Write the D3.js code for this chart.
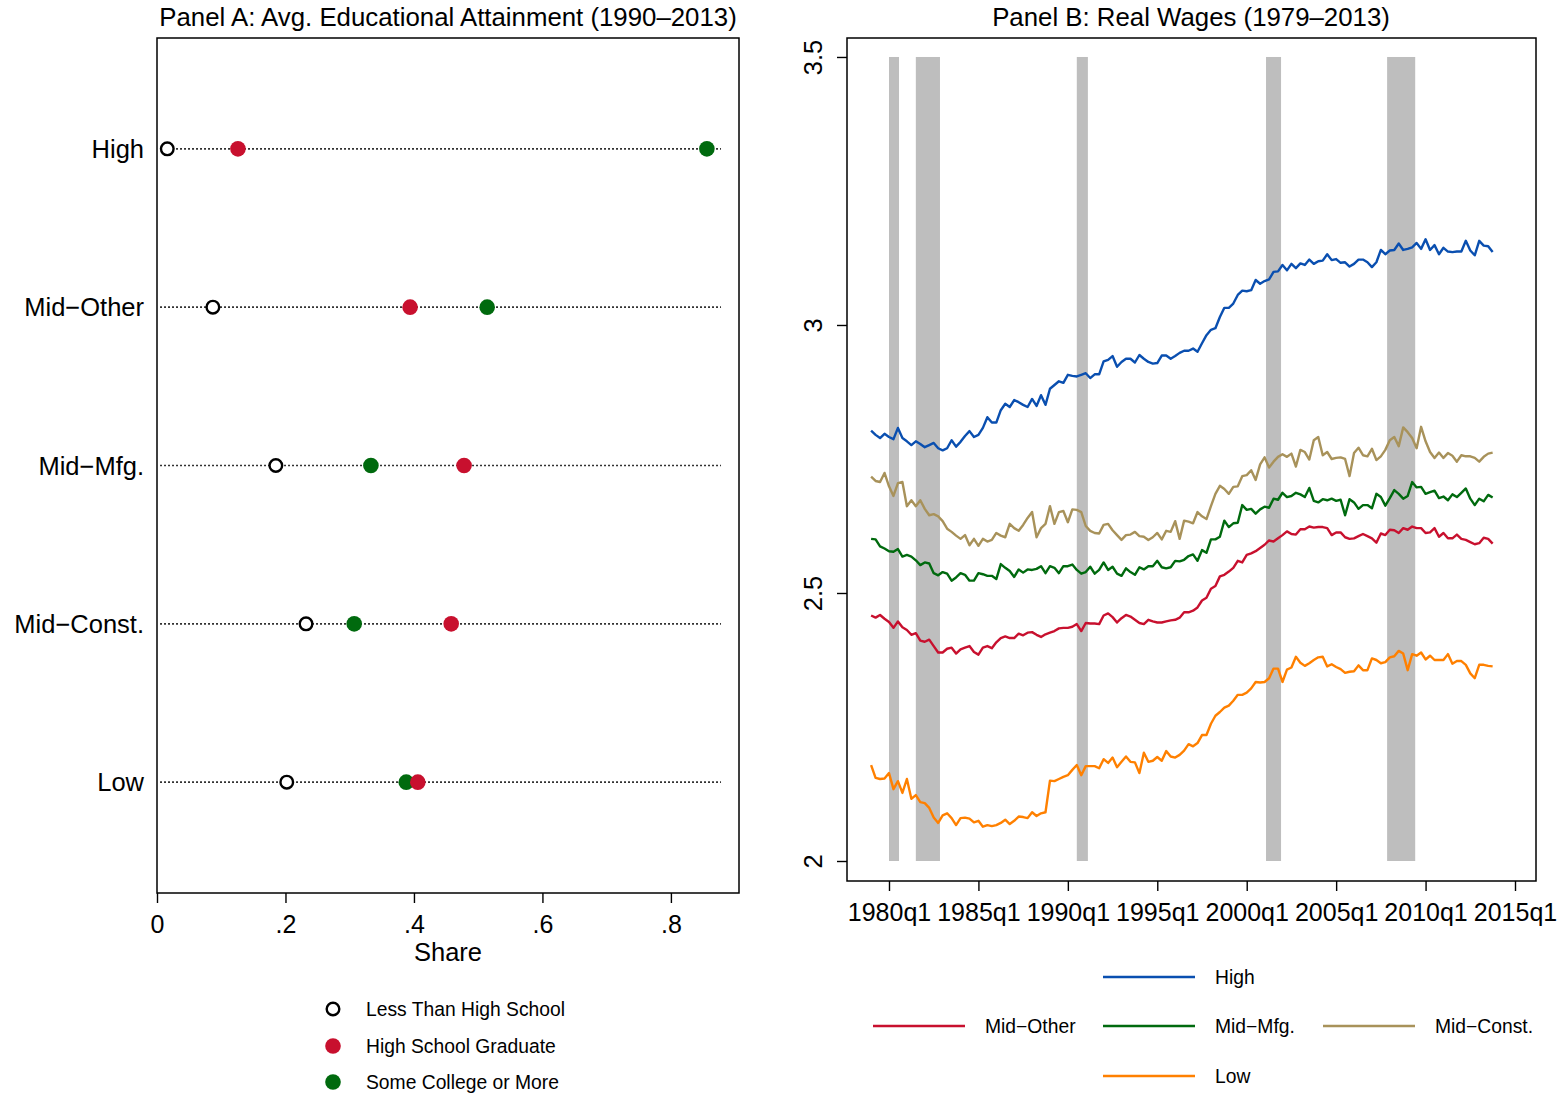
<!DOCTYPE html>
<html><head><meta charset="utf-8">
<script src="https://cdn.jsdelivr.net/npm/d3@7"></script>
<style>
body{margin:0;background:#fff}
svg{display:block}
text{font-family:"Liberation Sans",Arial,Helvetica,sans-serif;fill:#000}
</style>
</head><body>
<svg id="c" width="1566" height="1097"></svg>
<script>
// ---------- Panel A data ----------
const categories = ["High","Mid\u2212Other","Mid\u2212Mfg.","Mid\u2212Const.","Low"];
const lessThanHS  = [0.016,0.087,0.185,0.232,0.202];
const hsGrad      = [0.126,0.394,0.478,0.458,0.406];
const someCollege = [0.856,0.514,0.333,0.307,0.388];
const shareTicks = [0,0.2,0.4,0.6,0.8];
const shareTickLabels = ["0",".2",".4",".6",".8"];
const eduLegend = ["Less Than High School","High School Graduate","Some College or More"];

// ---------- Panel B data (quarterly, 1979q1 - 2013q4) ----------
const startYear = 1979;
const high = [
2.803,2.795,2.789,2.797,2.791,2.787,2.808,2.789,2.783,2.776,
2.783,2.778,2.772,2.776,2.780,2.770,2.766,2.770,2.785,2.773,
2.782,2.793,2.802,2.791,2.795,2.808,2.828,2.818,2.818,2.841,
2.853,2.847,2.860,2.856,2.851,2.847,2.862,2.849,2.869,2.851,
2.881,2.888,2.895,2.892,2.907,2.905,2.904,2.907,2.910,2.901,
2.908,2.908,2.932,2.935,2.942,2.922,2.931,2.937,2.937,2.930,
2.944,2.937,2.931,2.928,2.929,2.943,2.943,2.937,2.942,2.948,
2.952,2.952,2.956,2.950,2.966,2.981,2.991,2.994,3.015,3.032,
3.032,3.040,3.056,3.064,3.063,3.065,3.084,3.077,3.082,3.085,
3.099,3.100,3.112,3.102,3.114,3.106,3.115,3.112,3.122,3.114,
3.119,3.120,3.132,3.121,3.123,3.116,3.117,3.109,3.114,3.122,
3.122,3.117,3.108,3.117,3.140,3.132,3.139,3.140,3.152,3.140,
3.142,3.145,3.153,3.142,3.160,3.140,3.149,3.132,3.144,3.137,
3.136,3.137,3.137,3.157,3.139,3.130,3.157,3.148,3.147,3.136];
const midOther = [
2.458,2.454,2.459,2.452,2.446,2.435,2.447,2.436,2.431,2.422,
2.425,2.411,2.409,2.413,2.401,2.389,2.389,2.396,2.398,2.387,
2.395,2.398,2.401,2.390,2.385,2.398,2.401,2.397,2.408,2.416,
2.419,2.416,2.416,2.424,2.421,2.426,2.427,2.422,2.418,2.423,
2.426,2.429,2.434,2.435,2.435,2.437,2.442,2.429,2.444,2.443,
2.443,2.442,2.458,2.462,2.455,2.445,2.453,2.459,2.456,2.450,
2.444,2.442,2.450,2.447,2.445,2.445,2.447,2.449,2.450,2.454,
2.464,2.464,2.467,2.473,2.486,2.491,2.508,2.513,2.531,2.534,
2.540,2.547,2.560,2.557,2.571,2.574,2.578,2.584,2.590,2.598,
2.596,2.602,2.608,2.615,2.610,2.609,2.619,2.619,2.624,2.622,
2.623,2.623,2.621,2.608,2.613,2.613,2.604,2.601,2.602,2.606,
2.610,2.606,2.602,2.594,2.611,2.608,2.618,2.617,2.612,2.621,
2.618,2.624,2.621,2.621,2.612,2.613,2.621,2.605,2.612,2.602,
2.602,2.609,2.601,2.599,2.595,2.591,2.593,2.603,2.601,2.592];
const midMfg = [
2.601,2.600,2.587,2.583,2.578,2.577,2.582,2.568,2.571,2.568,
2.561,2.552,2.557,2.555,2.537,2.533,2.539,2.536,2.523,2.529,
2.537,2.534,2.523,2.523,2.537,2.535,2.532,2.532,2.526,2.554,
2.547,2.541,2.530,2.544,2.538,2.544,2.543,2.545,2.550,2.537,
2.550,2.547,2.537,2.550,2.550,2.553,2.543,2.536,2.539,2.549,
2.536,2.543,2.557,2.543,2.549,2.536,2.532,2.546,2.539,2.534,
2.548,2.544,2.550,2.550,2.560,2.548,2.546,2.548,2.560,2.559,
2.562,2.569,2.572,2.560,2.580,2.575,2.600,2.600,2.605,2.635,
2.623,2.630,2.631,2.664,2.655,2.657,2.648,2.656,2.661,2.659,
2.676,2.674,2.687,2.679,2.681,2.687,2.684,2.679,2.696,2.672,
2.669,2.675,2.673,2.676,2.672,2.674,2.645,2.675,2.669,2.657,
2.664,2.664,2.658,2.685,2.679,2.663,2.677,2.692,2.685,2.676,
2.681,2.707,2.697,2.698,2.685,2.688,2.691,2.677,2.680,2.673,
2.684,2.679,2.687,2.695,2.676,2.664,2.676,2.671,2.683,2.678];
const midConst = [
2.717,2.709,2.707,2.724,2.699,2.681,2.705,2.707,2.662,2.673,
2.662,2.673,2.657,2.645,2.647,2.643,2.634,2.620,2.614,2.607,
2.601,2.608,2.589,2.601,2.588,2.601,2.596,2.599,2.612,2.607,
2.604,2.629,2.621,2.616,2.627,2.640,2.651,2.604,2.621,2.629,
2.662,2.629,2.651,2.653,2.632,2.656,2.655,2.651,2.625,2.616,
2.612,2.611,2.627,2.629,2.617,2.608,2.599,2.608,2.609,2.614,
2.606,2.605,2.599,2.604,2.612,2.600,2.616,2.614,2.634,2.601,
2.635,2.633,2.630,2.651,2.643,2.638,2.662,2.685,2.700,2.694,
2.685,2.698,2.699,2.718,2.720,2.729,2.711,2.740,2.753,2.734,
2.745,2.754,2.759,2.754,2.760,2.736,2.767,2.763,2.749,2.785,
2.791,2.757,2.763,2.750,2.752,2.753,2.750,2.718,2.761,2.771,
2.757,2.755,2.769,2.748,2.755,2.767,2.785,2.791,2.774,2.809,
2.800,2.789,2.770,2.810,2.783,2.763,2.752,2.762,2.752,2.761,
2.756,2.745,2.757,2.755,2.755,2.752,2.745,2.754,2.760,2.762];
const low = [
2.179,2.155,2.153,2.154,2.164,2.134,2.149,2.127,2.153,2.116,
2.123,2.110,2.108,2.099,2.081,2.071,2.085,2.089,2.080,2.067,
2.080,2.081,2.079,2.072,2.075,2.064,2.067,2.065,2.067,2.071,
2.077,2.069,2.075,2.083,2.082,2.080,2.091,2.084,2.089,2.091,
2.150,2.149,2.153,2.157,2.160,2.170,2.179,2.160,2.177,2.177,
2.177,2.173,2.190,2.183,2.193,2.175,2.185,2.195,2.185,2.184,
2.164,2.202,2.185,2.187,2.194,2.187,2.205,2.195,2.193,2.198,
2.206,2.218,2.214,2.220,2.235,2.235,2.256,2.271,2.278,2.286,
2.290,2.299,2.310,2.310,2.314,2.322,2.334,2.333,2.334,2.341,
2.359,2.359,2.334,2.357,2.361,2.381,2.370,2.364,2.369,2.375,
2.380,2.381,2.363,2.367,2.362,2.358,2.351,2.353,2.354,2.365,
2.356,2.356,2.378,2.375,2.369,2.371,2.380,2.382,2.392,2.387,
2.356,2.386,2.383,2.389,2.376,2.383,2.375,2.375,2.375,2.386,
2.368,2.373,2.373,2.366,2.350,2.341,2.366,2.366,2.364,2.363];
const recessionStart = [1980.0, 1981.5, 1990.5, 2001.08, 2007.85];
const recessionEnd   = [1980.56, 1982.85, 1991.12, 2001.92, 2009.42];
const yearTicks = [1980,1985,1990,1995,2000,2005,2010,2015];
const yearTickLabels = ["1980q1","1985q1","1990q1","1995q1","2000q1","2005q1","2010q1","2015q1"];
const wageTicks = [2,2.5,3,3.5];
const wageTickLabels = ["2","2.5","3","3.5"];
const seriesNames = ["High","Mid\u2212Other","Mid\u2212Mfg.","Mid\u2212Const.","Low"];

const RED = "#c8102e", GREEN = "#006a0e";
const seriesColors = ["#0a4fb0", RED, GREEN, "#a8925a", "#ff8000"];
const seriesData = [high, midOther, midMfg, midConst, low];

const svg = d3.select("#c");
const FONT_TICK = 25;

// ================= Panel A =================
const A = {left:157, right:739, top:38, bottom:893};
const xA = d3.scaleLinear().domain([0, 0.906]).range([A.left, A.right]);
const yA = d3.scalePoint().domain(categories).range([A.top, A.bottom]).padding(0.7);

svg.append("text").attr("x", (A.left+A.right)/2).attr("y", 26)
  .attr("text-anchor","middle").attr("font-size", 25.8)
  .text("Panel A: Avg. Educational Attainment (1990\u20132013)");

const gA = svg.append("g");
gA.selectAll("line.dot").data(categories).join("line")
  .attr("x1", xA(0.005)).attr("x2", xA(0.878))
  .attr("y1", d => yA(d)).attr("y2", d => yA(d))
  .attr("stroke","#000").attr("stroke-width",1.6).attr("stroke-dasharray","1.6,2.4");

gA.selectAll("circle.lhs").data(categories).join("circle")
  .attr("cx", (d,i) => xA(lessThanHS[i])).attr("cy", d => yA(d)).attr("r", 6.3)
  .attr("fill","#fff").attr("stroke","#000").attr("stroke-width",2.4);
gA.selectAll("circle.sc").data(categories).join("circle")
  .attr("cx", (d,i) => xA(someCollege[i])).attr("cy", d => yA(d)).attr("r", 7.8)
  .attr("fill", GREEN);
gA.selectAll("circle.hs").data(categories).join("circle")
  .attr("cx", (d,i) => xA(hsGrad[i])).attr("cy", d => yA(d)).attr("r", 7.8)
  .attr("fill", RED);

svg.append("rect").attr("x",A.left).attr("y",A.top)
  .attr("width",A.right-A.left).attr("height",A.bottom-A.top)
  .attr("fill","none").attr("stroke","#000").attr("stroke-width",1.5);

gA.selectAll("text.cat").data(categories).join("text")
  .attr("x", A.left-13).attr("y", d => yA(d)).attr("dy","0.36em")
  .attr("text-anchor","end").attr("font-size",25.5).text(d => d);

const axA = svg.append("g").attr("transform",`translate(0,${A.bottom})`)
  .call(d3.axisBottom(xA).tickValues(shareTicks)
    .tickFormat((d,i) => shareTickLabels[i]).tickSize(10));
axA.select(".domain").remove();
axA.selectAll(".tick line").attr("stroke","#000").attr("stroke-width",1.4);
axA.selectAll(".tick text").attr("font-size",FONT_TICK).attr("font-family",null)
  .attr("y",40).attr("dy",null);
svg.append("text").attr("x",(A.left+A.right)/2).attr("y",961)
  .attr("text-anchor","middle").attr("font-size",25.5).text("Share");

const legA = svg.append("g");
const legY = [1009, 1046, 1082];
legA.append("circle").attr("cx",333).attr("cy",legY[0]).attr("r",6.3)
  .attr("fill","#fff").attr("stroke","#000").attr("stroke-width",2.4);
legA.append("circle").attr("cx",333).attr("cy",legY[1]).attr("r",7.8).attr("fill",RED);
legA.append("circle").attr("cx",333).attr("cy",legY[2]).attr("r",7.8).attr("fill",GREEN);
legA.selectAll("text").data(eduLegend).join("text")
  .attr("x",366).attr("y",(d,i)=>legY[i]).attr("dy","0.35em")
  .attr("font-size",19.3).text(d=>d);

// ================= Panel B =================
const B = {left:847, right:1536, top:38, bottom:881};
const xB = d3.scaleLinear().domain([1977.652, 2016.174]).range([B.left, B.right]);
const yB = d3.scaleLinear().domain([1.9627, 3.5354]).range([B.bottom, B.top]);

svg.append("text").attr("x", 1191).attr("y", 26)
  .attr("text-anchor","middle").attr("font-size", 25.8)
  .text("Panel B: Real Wages (1979\u20132013)");

svg.append("g").selectAll("rect").data(recessionStart).join("rect")
  .attr("x", d => xB(d)).attr("width", (d,i) => xB(recessionEnd[i]) - xB(d))
  .attr("y", yB(3.5)).attr("height", yB(2) - yB(3.5))
  .attr("fill","#bebebe");

const line = d3.line().x((d,i) => xB(startYear + i/4)).y(d => yB(d));
svg.append("g").selectAll("path").data(seriesData).join("path")
  .attr("d", line).attr("fill","none")
  .attr("stroke", (d,i) => seriesColors[i]).attr("stroke-width", 2.4)
  .attr("stroke-linejoin","round");

svg.append("rect").attr("x",B.left).attr("y",B.top)
  .attr("width",B.right-B.left).attr("height",B.bottom-B.top)
  .attr("fill","none").attr("stroke","#000").attr("stroke-width",1.5);

const axB = svg.append("g").attr("transform",`translate(0,${B.bottom})`)
  .call(d3.axisBottom(xB).tickValues(yearTicks)
    .tickFormat((d,i) => yearTickLabels[i]).tickSize(10));
axB.select(".domain").remove();
axB.selectAll(".tick line").attr("stroke","#000").attr("stroke-width",1.4);
axB.selectAll(".tick text").attr("font-size",FONT_TICK).attr("font-family",null)
  .attr("y",40).attr("dy",null);

const ayB = svg.append("g").attr("transform",`translate(${B.left},0)`)
  .call(d3.axisLeft(yB).tickValues(wageTicks)
    .tickFormat((d,i) => wageTickLabels[i]).tickSize(10));
ayB.select(".domain").remove();
ayB.selectAll(".tick line").attr("stroke","#000").attr("stroke-width",1.4);
ayB.selectAll(".tick text").attr("font-size",25.5).attr("font-family",null)
  .attr("x",null).attr("dy",null).attr("text-anchor","middle")
  .attr("transform","translate(-25,0) rotate(-90)");

const legB = svg.append("g");
const legPos = [[1103,977],[873,1026],[1103,1026],[1323,1026],[1103,1076]];
seriesNames.forEach((name,i) => {
  const [lx,ly] = legPos[i];
  legB.append("line").attr("x1",lx).attr("x2",lx+92).attr("y1",ly).attr("y2",ly)
    .attr("stroke",seriesColors[i]).attr("stroke-width",2.4);
  legB.append("text").attr("x",lx+112).attr("y",ly).attr("dy","0.35em")
    .attr("font-size",19.3).text(name);
});
</script>
</body></html>
